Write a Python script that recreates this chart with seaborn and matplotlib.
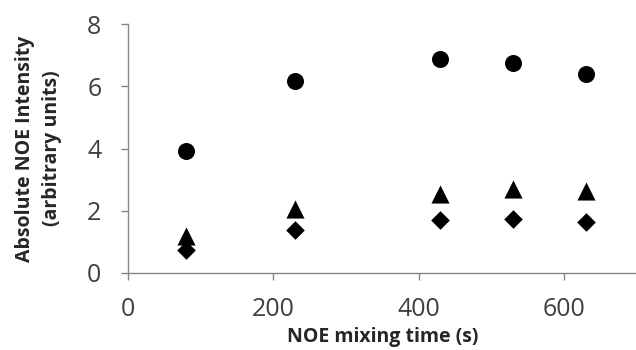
import matplotlib
matplotlib.use("Agg")
import matplotlib.pyplot as plt
import seaborn as sns
import pandas as pd

mixing_time = [80, 230, 430, 530, 630]
circles = [3.92, 6.18, 6.88, 6.75, 6.40]
triangles = [1.20, 2.07, 2.55, 2.70, 2.65]
diamonds = [0.75, 1.38, 1.70, 1.72, 1.65]

sns.set_theme(style="white")
plt.rcParams['font.family'] = ['Open Sans', 'DejaVu Sans']

fig = plt.figure(figsize=(6.36, 3.5), dpi=100)
ax = fig.add_axes([0.201, 0.22, 0.80, 0.711])

for vals, mk, sz in [(circles, "o", 150), (triangles, "^", 170), (diamonds, "D", 90)]:
    df = pd.DataFrame({"t": mixing_time, "v": vals})
    sns.scatterplot(data=df, x="t", y="v", marker=mk, s=sz, color="black",
                    edgecolor="black", linewidth=0, ax=ax)

ax.set_xlim(0, 700)
ax.set_ylim(0, 8)
ax.set_xticks([0, 200, 400, 600])
ax.set_yticks([0, 2, 4, 6, 8])
for s in ["top", "right"]:
    ax.spines[s].set_visible(False)
for s in ["left", "bottom"]:
    ax.spines[s].set_color("#868686")
    ax.spines[s].set_linewidth(1)
ax.tick_params(axis="both", direction="out", length=5, width=1, color="#868686",
               labelsize=18, labelcolor="#404040", bottom=True, left=True)
ax.tick_params(axis="y", pad=14)
ax.tick_params(axis="x", pad=12)
ax.set_xlabel("NOE mixing time (s)", fontsize=14, fontweight="bold", labelpad=4)
ax.set_ylabel("Absolute NOE Intensity\n(arbitrary units)", fontsize=14,
              fontweight="bold", labelpad=18, linespacing=1.45)
fig.savefig("out.png", dpi=100)
